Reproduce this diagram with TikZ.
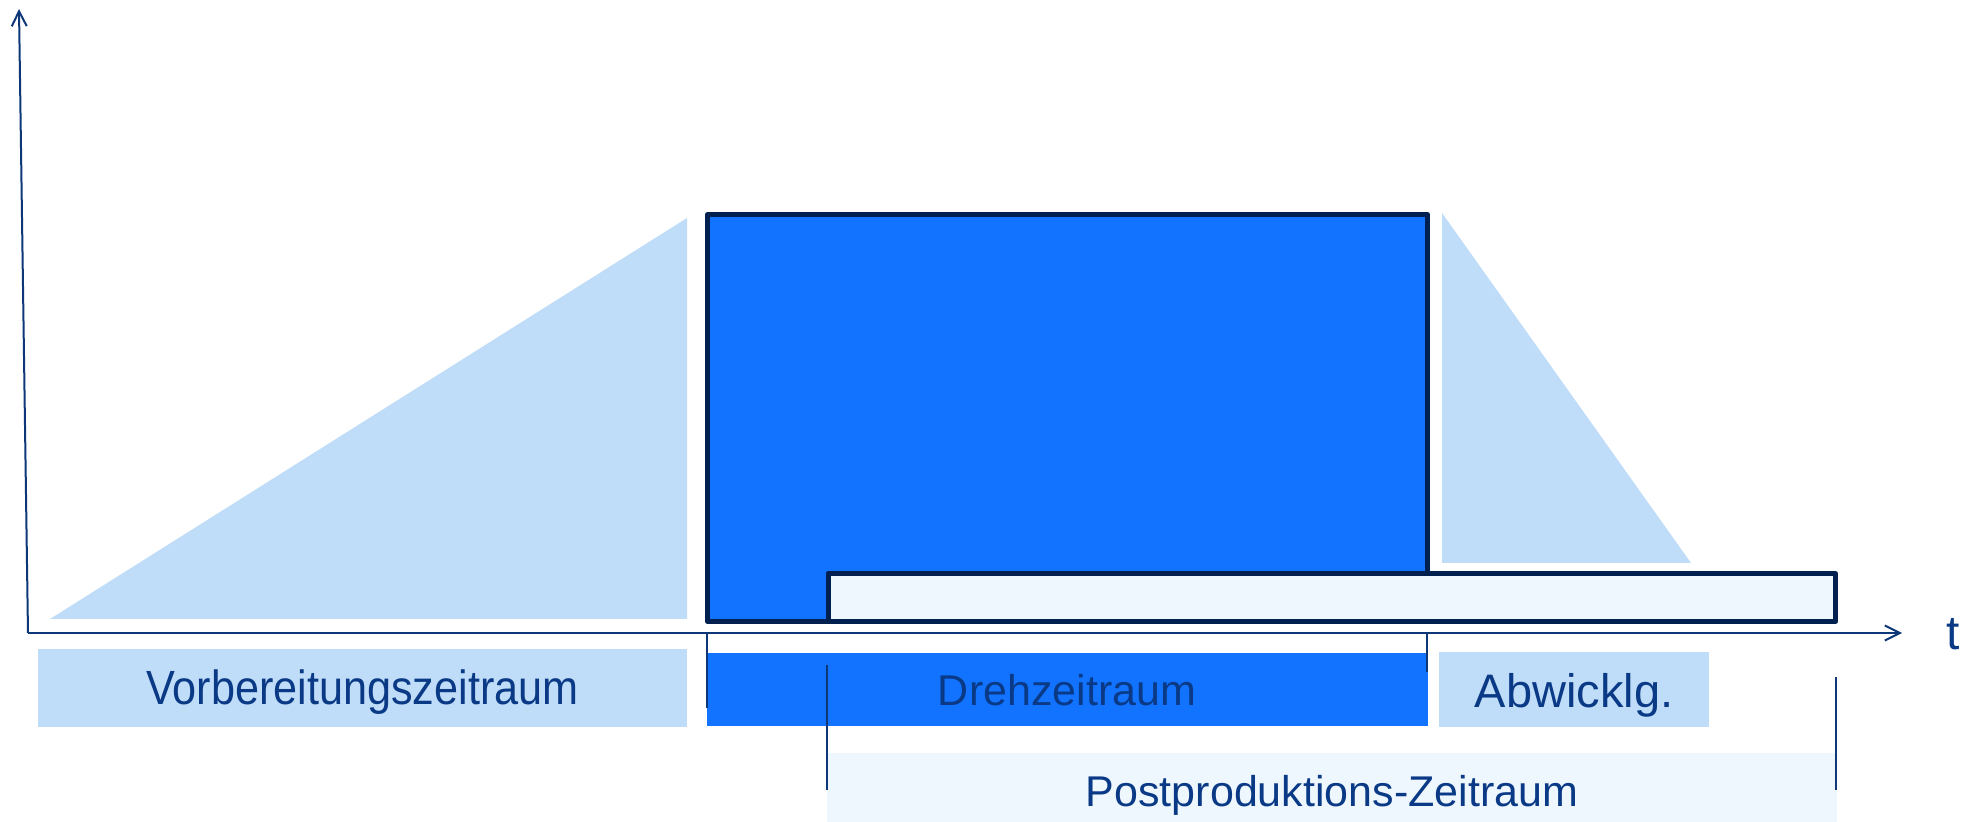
\documentclass[tikz,border=0pt]{standalone}
\usepackage{fontspec}
\setmainfont{Liberation Sans}
\usetikzlibrary{arrows.meta}
\definecolor{navy}{HTML}{002050}
\definecolor{axisc}{HTML}{0E3778}
\definecolor{txt}{HTML}{0A3A86}
\definecolor{lblue}{HTML}{BFDCF8}
\definecolor{mblue}{HTML}{1173FF}
\definecolor{pale}{HTML}{EEF6FE}
\begin{document}
\begin{tikzpicture}[x=0.5pt,y=-0.5pt,
  lab/.style={font=\fontsize{21.5pt}{26pt}\selectfont, text=txt, inner sep=0pt, anchor=base},
  frame/.style={draw=navy, line width=2.5pt, line join=round},
  axisline/.style={draw=axisc, line width=1pt, -{Straight Barb[length=7.5pt,width=7.5pt,line width=1pt]}},
  tickline/.style={draw=axisc, line width=1pt}]
\useasboundingbox (0,0) rectangle (1965,822);
% triangles
\fill[lblue] (50,619) -- (687,218) -- (687,619) -- cycle;
\fill[lblue] (1442,213) -- (1442,563) -- (1691,563) -- cycle;
% main blocks
\draw[frame, fill=mblue] (707.5,214.5) rectangle (1427.5,621.5);
\draw[frame, fill=pale] (828,573.5) rectangle (1835.5,621.5);
% axes
\coordinate (o) at (28,633);
\coordinate (ytop) at (19,9);
\coordinate (xend) at (1902,633);
\draw[axisline] (o) -- (ytop);
\draw[axisline] (o) -- (xend);
\node[lab, font=\fontsize{24pt}{28pt}\selectfont] (t) at (1953,650) {t};
% label boxes
\fill[lblue] (38,649) rectangle (687,727);
\fill[mblue] (707,653) rectangle (1428,726);
\fill[lblue] (1439,652) rectangle (1709,727);
\fill[pale] (827,753) rectangle (1837,830);
\node[lab, font=\fontsize{24pt}{28pt}\selectfont] (vorb) at (362.5,705) {\scalebox{0.9}[1]{Vorbereitungszeitraum}};
\node[lab] (dreh) at (1067,706) {Drehzeitraum};
\node[lab, font=\fontsize{23.5pt}{28pt}\selectfont] (abw) at (1574,708) {Abwicklg.};
\node[lab] (post) at (1332,806) {Postproduktions-Zeitraum};
% ticks and markers
\coordinate (t1a) at (707,633); \coordinate (t1b) at (707,708);
\coordinate (t2a) at (1427,633); \coordinate (t2b) at (1427,672);
\coordinate (m1a) at (827,665); \coordinate (m1b) at (827,790);
\coordinate (m2a) at (1836,677); \coordinate (m2b) at (1836,790);
\draw[tickline] (t1a) -- (t1b);
\draw[tickline] (t2a) -- (t2b);
\draw[tickline] (m1a) -- (m1b);
\draw[tickline] (m2a) -- (m2b);
\end{tikzpicture}
\end{document}
